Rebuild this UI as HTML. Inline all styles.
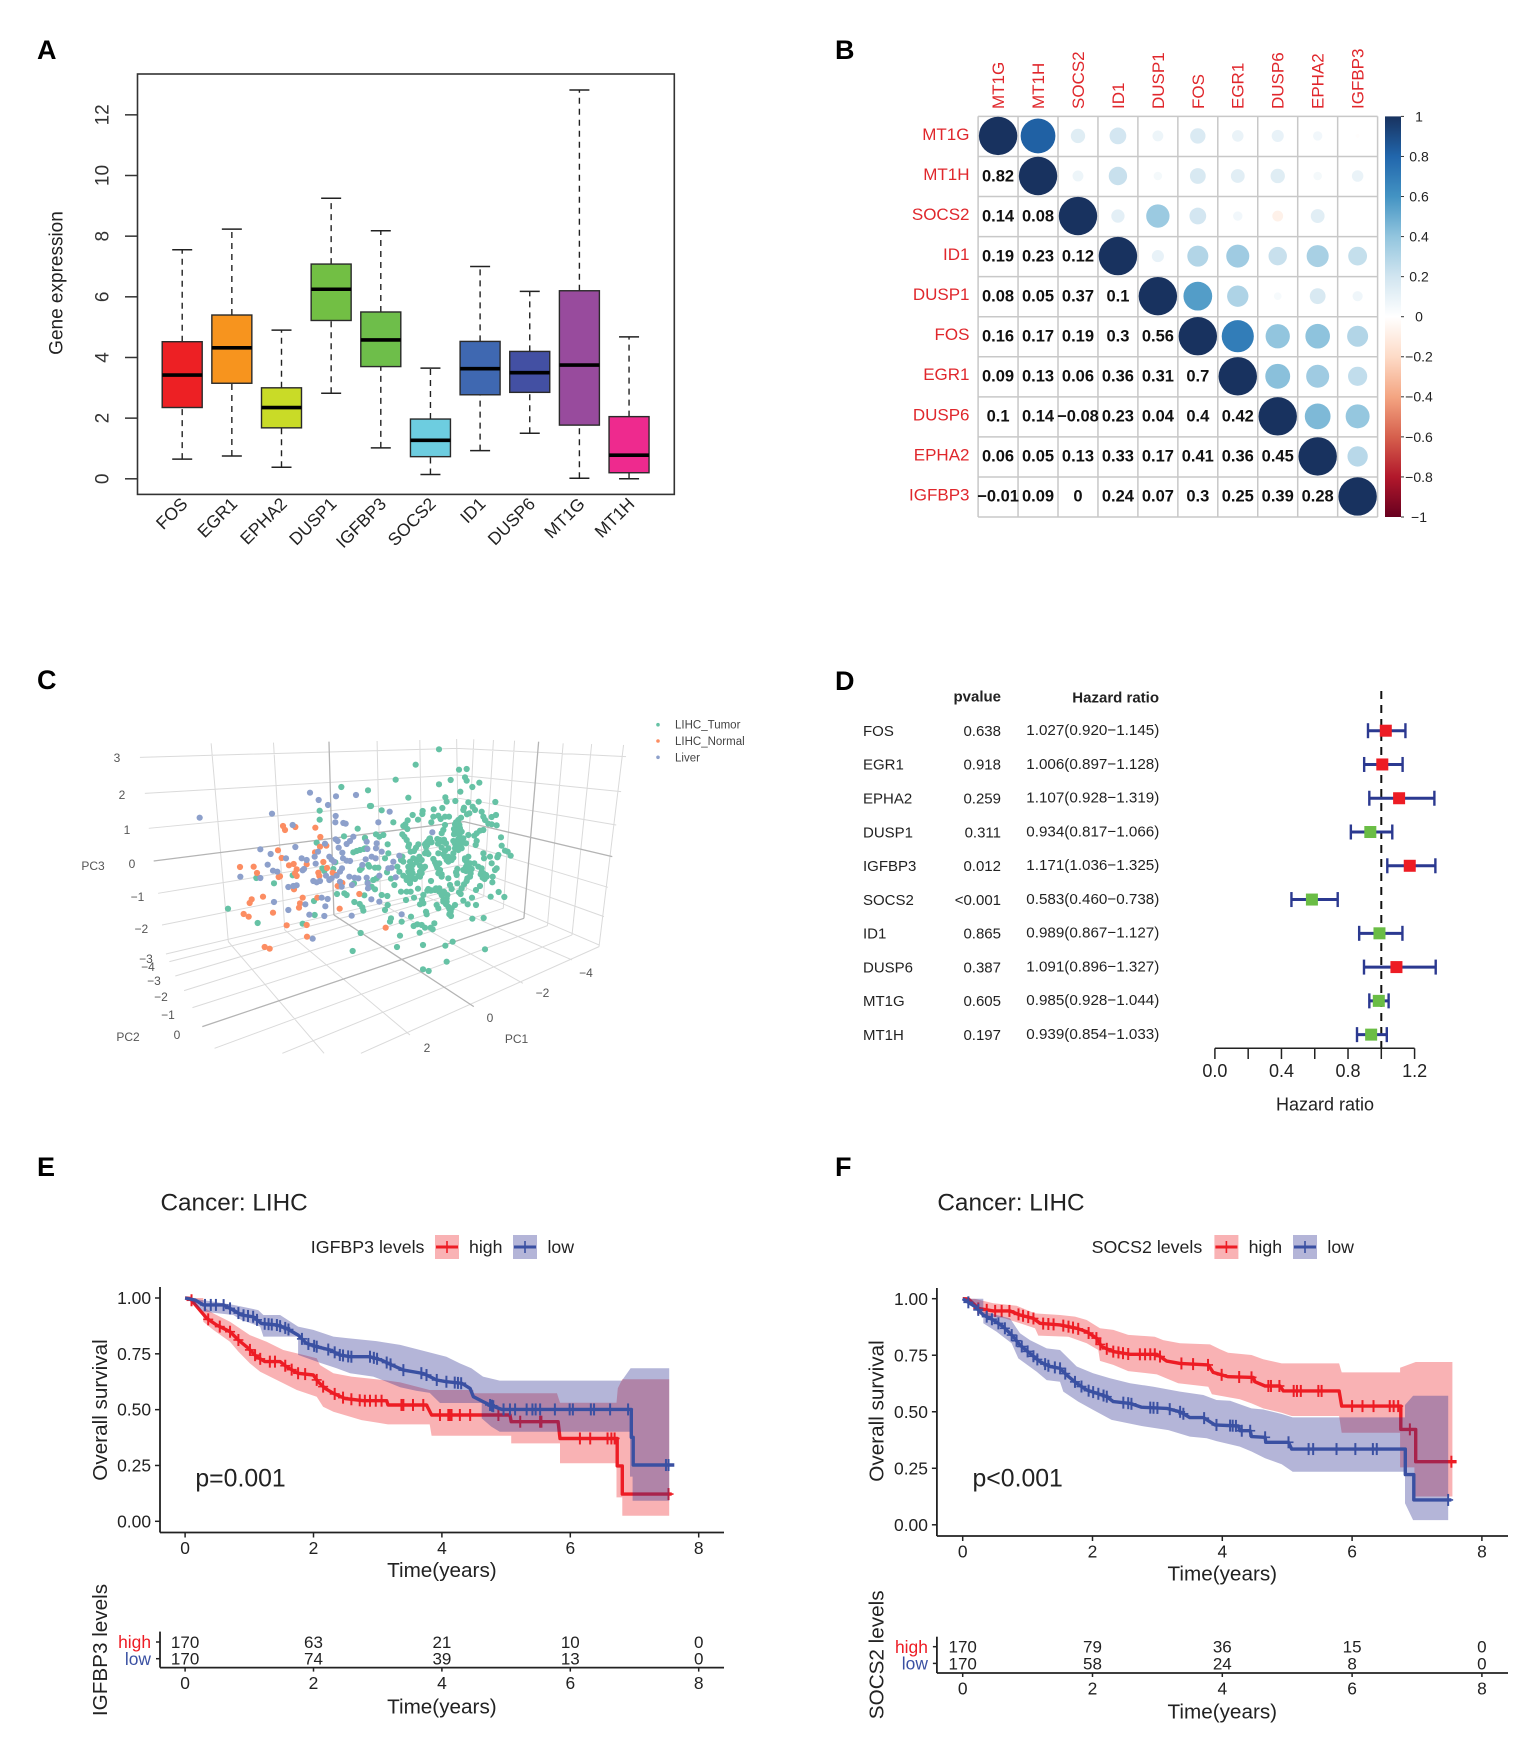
<!DOCTYPE html>
<html lang="en">
<head>
<meta charset="utf-8">
<title>LIHC gene expression figure</title>
<style>
html,body{margin:0;padding:0;background:#fff}
svg{display:block}
text{font-family:"Liberation Sans",sans-serif;fill:#111}
</style>
</head>
<body>
<svg id="fig" xmlns="http://www.w3.org/2000/svg" width="1535" height="1747" viewBox="0 0 1535 1747">
<defs>
<linearGradient id="corrGrad" x1="0" y1="1" x2="0" y2="0"></linearGradient>
</defs>
<rect width="1535" height="1747" fill="#fff"/>
<g transform="translate(0 640) scale(.491 .3333)" fill="none">
<path vector-effect="non-scaling-stroke" stroke="#dadada" stroke-width="1" d="M285 352L930 325L1275 350M295 460L930 405L1265 455M303 565L935 475L1255 555M322 760L940 610L1238 742M330 855L937 675L1230 830M338 942L935 735L1220 915M430 310L465 905M557 308L580 870M768 303L775 790M855 300L860 765M930 297L935 740M965 298L950 750M1005 300L985 770M1048 302L1025 805M1147 310L1115 857M1205 312L1165 885M1270 315L1220 920M465 905L660 1240M580 870L835 1185M775 790L1065 1030M860 765L1165 960M345 965L935 745M357 1008L950 750M375 1052L985 770M392 1103L1025 805M437 1225L1115 857M575 1240L1165 885M735 1240L1220 920"/>
<path vector-effect="non-scaling-stroke" stroke="#b4b4b4" stroke-width="1.3" d="M313 663L945 545L1247 650M670 305L680 825M1097 305L1067 835M680 825L965 1100M412 1160L1067 835"/>
</g>
<g id="layer"></g>
</svg>
<script>
// ---------- Panel A data ----------
const boxGenes = ['FOS','EGR1','EPHA2','DUSP1','IGFBP3','SOCS2','ID1','DUSP6','MT1G','MT1H'];
const boxColors = ['#ED2024','#F7941E','#C9DB27','#72BF44','#6EBE4A','#6DCDE0','#3F68B1','#4350A3','#984B9D','#EE2A8E'];
const whiskerLow = [.65,.75,.38,2.82,1.02,.14,.93,1.5,.02,0];
const quartile1 = [2.35,3.15,1.68,5.22,3.7,.73,2.77,2.85,1.77,.2];
const medians = [3.42,4.32,2.35,6.25,4.58,1.27,3.63,3.5,3.75,.78];
const quartile3 = [4.52,5.4,3.0,7.08,5.5,1.97,4.53,4.2,6.2,2.05];
const whiskerHigh = [7.55,8.23,4.9,9.25,8.18,3.65,7.0,6.18,12.82,4.68];
const boxYTicks = [0,2,4,6,8,10,12];

// ---------- Panel B data ----------
const corrGenes = ['MT1G','MT1H','SOCS2','ID1','DUSP1','FOS','EGR1','DUSP6','EPHA2','IGFBP3'];
const corrLower = [
 [1],
 [.82,1],
 [.14,.08,1],
 [.19,.23,.12,1],
 [.08,.05,.37,.1,1],
 [.16,.17,.19,.3,.56,1],
 [.09,.13,.06,.36,.31,.7,1],
 [.1,.14,-.08,.23,.04,.4,.42,1],
 [.06,.05,.13,.33,.17,.41,.36,.45,1],
 [-.01,.09,0,.24,.07,.3,.25,.39,.28,1]
];
const colorbarTicks = [1,.8,.6,.4,.2,0,-.2,-.4,-.6,-.8,-1];
const colorRamp = ['#67001F','#B2182B','#D6604D','#F4A582','#FDDBC7','#FFFFFF','#D1E5F0','#92C5DE','#4393C3','#2166AC','#18325F'];

// ---------- Panel C data (projected view scores) ----------
const tumorScores = [[454,126],[534,136],[389,197],[389,224],[503,251],[462,274],[525,278],[380,293],[540,183],[199,399],[308,391],[252,415],[436,352],[397,370],[403,378],[430,372],[114,491],[203,534],[338,536],[374,510],[372,468],[441,447],[463,445],[470,450],[492,415],[493,471],[509,477],[517,487],[520,497],[523,451],[512,564],[488,618],[490,322],[500,318],[510,315],[525,310],[515,370],[510,375],[535,360],
[747,13],[677,59],[807,74],[830,72],[617,104],[782,105],[825,97],[830,107],[747,118],[868,113],[847,126],[811,140],[655,158],[766,157],[770,170],[796,168],[866,170],[916,171],[835,172],[575,196],[543,183],[822,188],[820,195],[848,185],[855,195],[875,200],[698,198],[697,207],[731,193],[757,189],[668,210],[831,208],[838,205],[880,215],[885,225],[905,216],[918,210],[684,224],[653,226],[610,232],[646,238],[640,243],[724,232],[730,215],[745,212],[765,215],[777,215],[752,222],[895,236],[905,238],[920,241],[813,218],[805,225],[795,238],[800,245],[810,250],[792,252],[765,240],[760,255],[755,265],[750,285],[760,290],[652,252],[880,255],[870,257],[860,265],[853,272],[835,270],[815,260],[808,270],[795,262],[805,282],[820,280],[933,277],[935,302],[860,288],[857,300],[828,295],[810,295],[800,300],[795,310],[805,315],[815,310],[790,325],[775,310],[765,318],[755,308],[745,325],[775,335],[785,345],[770,345],[720,280],[715,290],[708,295],[720,285],[712,300],[637,268],[643,275],[650,285],[657,298],[655,305],[685,298],[678,308],[672,318],[662,320],[710,320],[705,325],[715,327],[945,317],[953,320],[962,332],[730,342],[688,335],[680,345],[695,345],[670,340],[637,335],[633,345],[640,350],[748,355],[740,362],[750,375],[745,385],[755,395],[775,400],[825,340],[835,335],[830,350],[840,355],[828,365],[820,375],[835,375],[842,385],[865,365],[875,370],[880,385],[890,395],[882,397],[880,325],[882,340],[900,335],[905,355],[925,330],[922,337],[915,375],[920,370],[908,395],[907,412],[802,372],[798,382],[800,390],[853,355],[705,365],[655,365],[665,375],[660,388],[650,398],[668,385],[695,385],[685,392],[690,380],[622,365],[628,380],[640,392],[650,405],[660,415],[723,408],[802,415],[830,408],[822,418],[815,430],[807,442],[812,447],[780,420],[785,432],[858,435],[870,423],[926,441],[943,456],[902,455],[846,458],[820,467],[833,478],[858,480],[795,480],[785,490],[775,485],[768,478],[760,465],[770,460],[755,450],[748,430],[735,435],[722,437],[712,437],[700,450],[696,465],[700,475],[690,478],[672,458],[648,465],[650,440],[662,440],[633,440],[684,431],[613,420],[603,401],[591,382],[585,340],[595,325],[593,298],[580,270],[568,275],[558,268],[525,280],[530,310],[522,312],[538,365],[555,368],[565,368],[550,405],[560,400],[533,412],[545,425],[555,433],[592,453],[575,450],[593,480],[585,495],[603,520],[600,530],[635,530],[663,515],[708,500],[710,508],[740,480],[745,490],[778,508],[783,513],[847,521],[881,519],[671,543],[682,538],[695,540],[705,548],[722,548],[728,553],[733,535],[689,563],[630,572],[621,606],[699,600],[766,602],[788,590],[885,613],[770,650],[699,673],[716,678],
[705,298],[712,290],[718,282],[725,292],[708,306],[742,282],[750,290],[762,284],[768,295],[744,296],[792,268],[800,258],[812,262],[815,280],[805,292],[795,296],[812,302],[800,312],[790,288],[818,292],[808,240],[798,232],[765,335],[778,342],[790,338],[775,350],[760,328],[825,345],[832,358],[838,368],[828,378],[840,395],[832,400],[845,372],[872,388],[878,398],[888,390],[884,402],[875,380],[660,350],[668,360],[680,352],[690,362],[700,370],[665,395],[675,402],[660,408],[690,395],[695,375],[655,380],[735,352],[742,368],[748,380],[755,388],[738,358],[762,440],[772,450],[770,470],[778,492],[782,500],[760,470],[715,432],[725,436],[738,430],[748,440]];
const normalScores = [[279,243],[285,255],[316,246],[376,248],[391,276],[390,305],[409,302],[375,322],[264,316],[275,339],[150,366],[191,365],[201,384],[270,394],[266,396],[297,361],[311,357],[350,358],[320,373],[315,385],[320,393],[400,351],[411,369],[385,383],[388,393],[428,383],[438,390],[312,433],[185,463],[179,474],[219,455],[338,458],[330,475],[327,488],[249,503],[161,507],[176,515],[382,458],[449,491],[290,541],[350,540],[351,575],[224,606],[239,611],[443,423],[457,414],[508,447],[587,548]];
const liverScores = [[29,218],[246,206],[360,143],[386,165],[438,154],[498,150],[414,180],[308,240],[437,213],[436,232],[460,234],[467,236],[211,313],[316,306],[242,327],[288,340],[233,359],[335,340],[350,345],[249,377],[262,380],[151,395],[211,399],[342,372],[338,376],[377,356],[374,335],[384,320],[405,296],[437,283],[443,288],[446,308],[457,323],[459,340],[470,347],[480,348],[418,335],[425,344],[432,350],[295,426],[310,423],[320,421],[370,408],[380,412],[390,408],[252,471],[395,458],[413,462],[346,478],[406,484],[295,495],[358,509],[403,513],[368,581],[485,512],[418,405],[425,400],[408,392],[470,297],[480,288],[490,275],[456,370],[450,380],[440,392],[478,395],[494,398],[486,420],[505,400],[455,425],[450,410],[530,398],[533,415],[534,430],[527,343],[517,360],[530,290],[532,312],[599,200],[565,232],[727,262],[560,295],[558,310],[575,320],[545,335],[557,340],[628,332],[610,350],[605,368],[595,370],[617,397],[568,392],[568,470],[544,463],[635,508]];
const pcaLegendLabels = ['LIHC_Tumor','LIHC_Normal','Liver'];
const pcaColors = ['#66C2A5','#FC8D62','#8DA0CB'];

// ---------- Panel D data ----------
const forestGenes = ['FOS','EGR1','EPHA2','DUSP1','IGFBP3','SOCS2','ID1','DUSP6','MT1G','MT1H'];
const forestP = ['0.638','0.918','0.259','0.311','0.012','<0.001','0.865','0.387','0.605','0.197'];
const forestHR = [1.027,1.006,1.107,.934,1.171,.583,.989,1.091,.985,.939];
const forestLow = [.920,.897,.928,.817,1.036,.460,.867,.896,.928,.854];
const forestHigh = [1.145,1.128,1.319,1.066,1.325,.738,1.127,1.327,1.044,1.033];
const forestTicks = [0,.2,.4,.6,.8,1,1.2];

// ---------- Panel E data ----------
const eHighCurve = [[0,1],[.076,.998],[.206,.954],[.336,.909],[.49,.879],[.70,.849],[.83,.812],[.985,.775],[1.114,.737],[1.244,.715],[1.48,.715],[1.58,.692],[1.76,.663],[1.997,.655],[2.07,.625],[2.18,.595],[2.31,.573],[2.49,.55],[2.775,.54],[3.14,.54],[3.16,.521],[3.76,.521],[3.84,.476],[5.06,.476],[5.08,.446],[5.81,.446],[5.84,.371],[6.72,.371],[6.73,.248],[6.81,.122],[7.58,.122]];
const eLowCurve = [[0,1],[.154,.991],[.284,.969],[.595,.969],[.751,.946],[.88,.924],[1.06,.916],[1.19,.886],[1.43,.879],[1.58,.864],[1.76,.834],[1.89,.797],[2.05,.782],[2.26,.767],[2.41,.745],[2.57,.737],[2.88,.737],[3.06,.722],[3.22,.70],[3.4,.677],[3.71,.662],[3.92,.633],[4.07,.625],[4.31,.618],[4.44,.595],[4.49,.558],[4.64,.536],[4.75,.521],[4.93,.501],[6.94,.501],[6.95,.376],[6.98,.252],[7.62,.252]];
const eHighUpper = [[.05,1],[.232,.969],[.44,.931],[.70,.894],[1.01,.834],[1.27,.804],[1.53,.767],[1.84,.745],[2.05,.73],[2.1,.70],[2.31,.663],[2.59,.648],[3.09,.633],[3.35,.622],[3.81,.588],[4.49,.573],[5.79,.576],[5.84,.531],[6.72,.531],[6.74,.596],[6.81,.636],[7.54,.636]];
const eHighLower = [[.05,1],[.284,.894],[.44,.857],[.70,.804],[.83,.76],[1.01,.707],[1.17,.67],[1.53,.618],[1.74,.588],[2.05,.558],[2.15,.513],[2.31,.491],[2.75,.453],[3.16,.434],[3.81,.434],[3.84,.383],[5.08,.349],[5.81,.349],[5.84,.26],[6.72,.107],[6.81,.025],[7.54,.025]];
const eLowUpper = [[.05,1],[.44,.984],[.75,.969],[1.14,.946],[1.22,.924],[1.48,.924],[1.76,.872],[1.997,.857],[2.31,.827],[2.54,.82],[2.98,.807],[3.35,.79],[3.76,.76],[4.07,.737],[4.28,.707],[4.46,.685],[4.64,.648],[4.9,.63],[6.81,.633],[6.94,.685],[7.54,.685]];
const eLowLower = [[.05,1],[.154,.969],[.284,.939],[.75,.924],[.88,.901],[1.17,.872],[1.22,.827],[1.58,.827],[1.76,.745],[2.10,.71],[2.36,.685],[2.57,.663],[2.93,.648],[3.14,.625],[3.35,.60],[3.6,.585],[3.81,.575],[3.97,.53],[4.62,.461],[4.77,.424],[4.9,.401],[6.93,.2],[6.97,.092],[7.54,.092]];
const eHighCensor = [.10,.36,.54,.70,.83,1.01,1.09,1.17,1.32,1.4,1.56,1.66,1.76,1.87,2.05,2.15,2.33,2.46,2.59,2.72,2.8,2.88,2.97,3.06,3.37,3.4,3.55,3.71,3.97,4.1,4.12,4.15,4.28,4.44,4.88,5.22,5.53,5.55,6.15,6.31,6.58,6.64,6.69,7.53];
const eLowCensor = [.31,.4,.48,.6,.7,.83,.91,.98,1.06,1.12,1.24,1.3,1.35,1.43,1.48,1.56,1.61,1.82,1.92,2.01,2.05,2.23,2.33,2.41,2.46,2.54,2.59,2.88,2.94,2.99,3.14,3.2,3.4,3.68,3.76,3.92,4.07,4.2,4.25,4.3,4.75,4.78,4.8,4.96,5.06,5.14,5.32,5.41,5.46,5.53,5.76,5.99,6.04,6.32,6.37,6.62,6.9,7.49,7.53];
const eRiskHigh = [170,63,21,10,0];
const eRiskLow = [170,74,39,13,0];

// ---------- Panel F data ----------
const fHighCurve = [[0,1],[.087,.999],[.24,.957],[.472,.946],[.729,.946],[.883,.928],[1.088,.913],[1.19,.891],[1.5,.884],[1.756,.869],[1.91,.854],[2.064,.825],[2.14,.788],[2.32,.766],[2.58,.754],[2.99,.754],[3.143,.724],[3.348,.714],[3.785,.707],[3.86,.674],[4.09,.655],[4.48,.652],[4.5,.633],[4.66,.614],[4.89,.614],[4.94,.592],[5.8,.592],[5.84,.525],[6.74,.525],[6.75,.422],[6.97,.422],[6.98,.279],[7.61,.279]];
const fLowCurve = [[0,1],[.19,.965],[.318,.928],[.472,.906],[.626,.876],[.78,.832],[.883,.795],[1.037,.758],[1.19,.722],[1.345,.7],[1.5,.692],[1.6,.663],[1.756,.626],[1.91,.596],[2.064,.582],[2.218,.567],[2.32,.545],[2.58,.537],[2.757,.52],[3.143,.515],[3.348,.5],[3.5,.474],[3.708,.474],[3.887,.442],[4.25,.437],[4.27,.416],[4.43,.416],[4.45,.39],[4.66,.387],[4.67,.365],[5.02,.365],[5.07,.335],[6.815,.335],[6.82,.222],[6.94,.222],[6.95,.11],[7.53,.11]];
const fHighUpper = [[.05,1],[.19,.999],[.472,.98],[.83,.969],[1.114,.935],[1.5,.928],[1.73,.921],[1.91,.906],[2.115,.869],[2.32,.862],[2.55,.84],[2.96,.832],[3.09,.817],[3.348,.803],[3.81,.798],[3.965,.776],[4.09,.761],[4.45,.751],[4.63,.732],[4.915,.714],[5.8,.714],[5.84,.674],[6.74,.695],[6.98,.72],[7.545,.72]];
const fHighLower = [[.05,1],[.29,.928],[.65,.913],[.883,.891],[1.114,.869],[1.165,.837],[1.63,.832],[1.91,.803],[2.09,.773],[2.115,.725],[2.32,.707],[2.55,.68],[2.99,.665],[3.32,.626],[3.785,.611],[3.84,.577],[4.27,.555],[4.45,.537],[4.63,.515],[4.915,.496],[5.07,.481],[5.8,.481],[5.84,.407],[6.74,.254],[6.96,.125],[7.545,.125]];
const fLowUpper = [[.035,1],[.318,.943],[.729,.913],[.883,.847],[1.037,.817],[1.294,.78],[1.5,.773],[1.756,.7],[2.01,.67],[2.27,.648],[2.58,.626],[2.94,.611],[3.348,.589],[3.708,.574],[3.91,.552],[4.12,.549],[4.27,.533],[4.45,.515],[4.63,.51],[4.915,.49],[5.085,.475],[6.815,.53],[6.94,.571],[7.48,.571]];
const fLowLower = [[.035,1],[.318,.891],[.523,.854],[.754,.803],[.857,.736],[1.14,.677],[1.294,.64],[1.5,.633],[1.55,.589],[1.78,.545],[2.01,.508],[2.295,.464],[2.757,.437],[3.17,.419],[3.5,.39],[3.76,.383],[3.91,.37],[4.27,.346],[4.45,.324],[4.66,.294],[4.915,.268],[5.085,.235],[6.76,.235],[6.815,.095],[6.94,.021],[7.48,.021]];
const fHighCensor = [.24,.37,.5,.6,.72,.86,.93,1.01,1.09,1.24,1.32,1.4,1.55,1.63,1.7,1.78,1.94,2.06,2.12,2.22,2.32,2.4,2.47,2.55,2.73,2.81,2.89,2.96,3.04,3.37,3.55,3.78,3.99,4.26,4.45,4.71,4.75,4.88,5.1,5.15,5.21,5.48,5.53,6.0,6.16,6.33,6.58,6.64,6.71,6.89,7.53];
const fLowCensor = [.087,.24,.37,.45,.55,.65,.755,.83,.91,1.0,1.09,1.15,1.27,1.32,1.42,1.5,1.58,1.73,1.83,1.94,2.01,2.09,2.17,2.22,2.475,2.55,2.6,2.89,2.94,3.0,3.19,3.35,3.4,3.72,3.91,4.12,4.16,4.21,4.3,4.43,4.66,5.02,5.33,5.4,5.76,6.05,6.32,6.38,7.48];
const fRiskHigh = [170,79,36,15,0];
const fRiskLow = [170,58,24,8,0];
const timeTicks = [0,2,4,6,8];
const survTicks = [0,.25,.5,.75,1];

// ---------- helpers ----------
const NS = 'http://www.w3.org/2000/svg';
const layer = document.getElementById('layer');
function svgEl(tag, attrs, parent) {
  const e = document.createElementNS(NS, tag);
  for (const k in attrs) e.setAttribute(k, attrs[k]);
  (parent || layer).appendChild(e);
  return e;
}
function label(name, str, x, y, size, o) {
  o = o || {};
  const t = svgEl('text', {x: x, y: y, dy: '.35em', 'font-size': size, 'text-anchor': o.anchor || 'start'}, o.parent);
  
  
  if (o.bold) t.setAttribute('font-weight', 'bold');
  if (o.fill) t.style.fill = o.fill;
  if (o.rot !== undefined) t.setAttribute('transform', 'rotate(' + o.rot + ' ' + x + ' ' + y + ')');
  t.textContent = str;
  return t;
}
function seg(name, x1, y1, x2, y2, stroke, w, dash) {
  const l = svgEl('line', {x1: x1, y1: y1, x2: x2, y2: y2, stroke: stroke, 'stroke-width': w});
  
  
  if (dash) l.setAttribute('stroke-dasharray', dash);
  return l;
}
const panelLetters = [['A',37,49.5],['B',835,49.5],['C',37,679.5],['D',835,680.5],['E',37,1166.5],['F',835,1166.5]];
panelLetters.forEach(p => label('panel-label-' + p[0].toLowerCase(), p[0], p[1], p[2], 27, {bold: true, fill: '#000'}));

// ---------- Panel A: boxplot ----------
(function () {
  const yScale = v => 478.8 - v * 30.33;
  const xScale = i => 182.2 + i * 49.65;
  const frame = svgEl('rect', {x: 137.5, y: 74, width: 536.8, height: 420.4, fill: 'none', stroke: '#333', 'stroke-width': 1.6});
  
  
  boxYTicks.forEach(v => {
    seg('boxplot-y-tick', 125, yScale(v), 137.5, yScale(v), '#333', 1.5);
    label('boxplot-y-tick-label', String(v), 102, yScale(v), 19, {anchor: 'middle', rot: -90, fill: '#333'});
  });
  label('boxplot-y-axis-title', 'Gene expression', 56, 283, 19, {anchor: 'middle', rot: -90, fill: '#222'});
  boxGenes.forEach((g, i) => {
    const cx = xScale(i);
    seg('whisker-' + g, cx, yScale(whiskerLow[i]), cx, yScale(quartile1[i]), '#222', 1.4, '6 5');
    seg('whisker-' + g, cx, yScale(quartile3[i]), cx, yScale(whiskerHigh[i]), '#222', 1.4, '6 5');
    seg('whisker-cap-' + g, cx - 10, yScale(whiskerLow[i]), cx + 10, yScale(whiskerLow[i]), '#222', 1.5);
    seg('whisker-cap-' + g, cx - 10, yScale(whiskerHigh[i]), cx + 10, yScale(whiskerHigh[i]), '#222', 1.5);
    const b = svgEl('rect', {x: cx - 20, y: yScale(quartile3[i]), width: 40, height: yScale(quartile1[i]) - yScale(quartile3[i]), fill: boxColors[i], stroke: '#2a2a2a', 'stroke-width': 1.4});
    
    
    seg('median-' + g, cx - 20, yScale(medians[i]), cx + 20, yScale(medians[i]), '#000', 3.6);
    label('boxplot-x-label', g, cx + 6.5, 505, 17.5, {anchor: 'end', rot: -45, fill: '#222'}).setAttribute('dy', '.0em');
  });
})();

// ---------- Panel B: correlation matrix ----------
(function () {
  const x0 = 978.1, y0 = 116.4, cw = 39.95, ch = 40.06;
  function corrColor(v) {
    const p = (v + 1) / 2 * (colorRamp.length - 1);
    const i = Math.min(Math.floor(p), colorRamp.length - 2), f = p - i;
    const a = colorRamp[i], b = colorRamp[i + 1];
    const ch3 = s => [1, 3, 5].map(k => parseInt(s.substr(k, 2), 16));
    const A = ch3(a), B = ch3(b);
    return 'rgb(' + A.map((c, k) => Math.round(c + (B[k] - c) * f)).join(',') + ')';
  }
  const n = corrGenes.length;
  for (let i = 0; i <= n; i++) {
    seg('corr-grid-line', x0 + i * cw, y0, x0 + i * cw, y0 + n * ch, '#c8c8c8', 1.5);
    seg('corr-grid-line', x0, y0 + i * ch, x0 + n * cw, y0 + i * ch, '#c8c8c8', 1.5);
  }
  corrGenes.forEach((g, i) => {
    label('corr-row-label', g, 969.5, y0 + (i + .5) * ch - 2.5, 17, {anchor: 'end', fill: '#E0272C'});
    label('corr-col-label', g, x0 + (i + .5) * cw, 109, 17, {rot: -90, fill: '#E0272C'});
  });
  corrLower.forEach((row, r) => {
    row.forEach((v, c) => {
      const cx = x0 + (c + .5) * cw, cy = y0 + (r + .5) * ch;
      if (r === c) {
        const d = svgEl('circle', {cx: cx, cy: cy - .5, r: 19.2, fill: corrColor(v)});
        
        
      } else {
        label('corr-value', String(v).replace('-', '\u2212').replace(/^\./, '0.').replace(/^\u2212\./, '\u22120.'), cx, cy - 1, 16.5, {anchor: 'middle', bold: true, fill: '#111'});
        const mx = x0 + (r + .5) * cw, my = y0 + (c + .5) * ch;
        const d = svgEl('circle', {cx: mx, cy: my - .5, r: 19.2 * Math.sqrt(Math.abs(v)), fill: corrColor(v)});
        
        
      }
    });
  });
  const grad = document.getElementById('corrGrad');
  colorRamp.forEach((c, i) => svgEl('stop', {offset: (i / (colorRamp.length - 1)), 'stop-color': c}, grad));
  const bar = svgEl('rect', {x: 1385, y: y0, width: 16, height: n * ch, fill: 'url(#corrGrad)'});
  
  
  colorbarTicks.forEach(v => {
    const y = y0 + (1 - v) / 2 * n * ch;
    seg('corr-colorbar-tick', 1401, y, 1404, y, '#333', 1);
    label('corr-colorbar-label', String(v).replace('-', '\u2212').replace(/^\./, '0.').replace(/^\u2212\./, '\u22120.'), 1419, y, 14, {anchor: 'middle', fill: '#222'});
  });
})();

// ---------- Panel C: PCA scatter ----------
(function () {
  const scaleU = u => 190 + u / 3;
  const scaleV = v => 745 + v / 3;
  [tumorScores, normalScores, liverScores].forEach((pts, k) => {
    pts.forEach(p => {
      const d = svgEl('circle', {cx: scaleU(p[0]), cy: scaleV(p[1]), r: 3.1, fill: pcaColors[k]});
      
      
    });
  });
  const axisLabels = [['3',117,758],['2',122,795],['1',127,830],['0',132,864],['\u22121',137.5,897],['\u22122',141.4,929],['\u22123',146,959],['\u22124',148,967],['\u22123',154,981],['\u22122',161,997],['\u22121',168,1015],['0',177,1035],['PC2',128,1037],['PC3',93,866],['\u22124',586,973],['\u22122',542.5,993],['0',490,1018],['2',427,1048],['PC1',516.5,1039]];
  axisLabels.forEach(a => label('pca-axis-label', a[0], a[1], a[2], 12, {anchor: 'middle', fill: '#555'}));
  pcaLegendLabels.forEach((name, i) => {
    const y = 724.7 + i * 16.3;
    const d = svgEl('circle', {cx: 658, cy: y, r: 1.8, fill: pcaColors[i]});
    
    
    label('pca-legend-label', name, 675, y, 11.5, {fill: '#444'});
  });
})();

// ---------- Panel D: forest plot ----------
(function () {
  const xScale = v => 1214.9 + v * 166.4;
  const rowY = i => 730.7 + i * 33.77;
  label('forest-header-pvalue', 'pvalue', 1001, 696, 15, {anchor: 'end', bold: true, fill: '#222'});
  label('forest-header-hr', 'Hazard ratio', 1159, 697, 15, {anchor: 'end', bold: true, fill: '#222'});
  seg('forest-reference-line', xScale(1), 691, xScale(1), 1048, '#111', 2, '8 6');
  forestGenes.forEach((g, i) => {
    const y = rowY(i);
    label('forest-gene-label', g, 863, y, 15, {fill: '#222'});
    label('forest-pvalue', forestP[i], 1001, y, 15, {anchor: 'end', fill: '#222'});
    label('forest-hr-text', forestHR[i].toFixed(3) + '(' + forestLow[i].toFixed(3) + '\u2212' + forestHigh[i].toFixed(3) + ')', 1159.3, y - 1, 15.2, {anchor: 'end', fill: '#222'});
    seg('forest-ci-' + g, xScale(forestLow[i]), y, xScale(forestHigh[i]), y, '#2B3990', 3);
    seg('forest-ci-cap-' + g, xScale(forestLow[i]), y - 7.5, xScale(forestLow[i]), y + 7.5, '#2B3990', 2.4);
    seg('forest-ci-cap-' + g, xScale(forestHigh[i]), y - 7.5, xScale(forestHigh[i]), y + 7.5, '#2B3990', 2.4);
    const s = svgEl('rect', {x: xScale(forestHR[i]) - 6, y: y - 6, width: 12, height: 12, fill: forestHR[i] > 1 ? '#ED1C24' : '#6ABD45'});
    
    
  });
  seg('forest-x-axis', xScale(0), 1048.3, xScale(1.2), 1048.3, '#222', 1.5);
  forestTicks.forEach((v, i) => {
    seg('forest-x-tick', xScale(v), 1048.3, xScale(v), 1059, '#222', 1.5);
    if (i % 2 === 0) label('forest-x-tick-label', v.toFixed(1), xScale(v), 1070.7, 18, {anchor: 'middle', fill: '#222'});
  });
  label('forest-x-axis-title', 'Hazard ratio', 1325, 1104.3, 18, {anchor: 'middle', fill: '#222'});
})();

// ---------- Panels E / F: Kaplan-Meier ----------
const RED = '#ED1C24', BLUE = '#3A50A2';
function isRamp(a, b, maxDt) { return (b[0] - a[0]) < maxDt && Math.abs(b[1] - a[1]) < .08; }
function stepPts(arr, xs, ys, maxDt) {
  const out = [];
  arr.forEach((p, i) => {
    if (i > 0 && !isRamp(arr[i - 1], p, maxDt)) out.push([xs(p[0]), ys(arr[i - 1][1])]);
    out.push([xs(p[0]), ys(p[1])]);
  });
  return out;
}
function pathD(pts) { return 'M' + pts.map(p => p[0].toFixed(1) + ' ' + p[1].toFixed(1)).join('L'); }
function survAt(curve, t) {
  let s = curve[0][1];
  for (let i = 0; i < curve.length; i++) {
    if (curve[i][0] <= t) {
      s = curve[i][1];
      const nx = curve[i + 1];
      if (nx && nx[0] > t && isRamp(curve[i], nx, .45)) s += (nx[1] - curve[i][1]) * (t - curve[i][0]) / (nx[0] - curve[i][0]);
    }
  }
  return s;
}
function drawKM(c) {
  const xs = t => c.x0 + t * c.xu;
  const ys = s => c.y0 - s * c.yu;
  const id = c.id;
  const series = [
    {key: 'high', curve: c.hi, up: c.hiUp, lo: c.hiLo, cens: c.hiC, color: RED, band: 'rgba(237,28,36,.34)'},
    {key: 'low', curve: c.lo, up: c.loUp, lo: c.loLo, cens: c.loC, color: BLUE, band: 'rgba(46,49,146,.36)'}
  ];
  series.forEach(s => {
    const band = svgEl('path', {d: pathD(stepPts(s.up, xs, ys, .62).concat(stepPts(s.lo, xs, ys, .62).reverse())) + 'Z', fill: s.band});
    
    
    const line = svgEl('path', {d: pathD(stepPts(s.curve, xs, ys, .45)), fill: 'none', stroke: s.color, 'stroke-width': 3.4, 'stroke-linejoin': 'round'});
    
    
    s.cens.forEach(t => {
      const y = ys(survAt(s.curve, t));
      seg(id + '-censor-tick-' + s.key, xs(t), y - 6, xs(t), y + 6, s.color, 2);
      seg(id + '-censor-tick-' + s.key, xs(t) - 5, y, xs(t) + 5, y, s.color, 1.6);
    });
  });
  seg(id + '-y-axis', c.axX, c.top, c.axX, c.axY, '#222', 1.8);
  seg(id + '-x-axis', c.axX, c.axY, c.right, c.axY, '#222', 1.8);
  survTicks.forEach(v => {
    seg(id + '-y-tick', c.axX - 5, ys(v), c.axX, ys(v), '#222', 1.5);
    label(id + '-y-tick-label', v.toFixed(2), c.axX - 9, ys(v), 17.4, {anchor: 'end', fill: '#222'});
  });
  timeTicks.forEach(t => {
    seg(id + '-x-tick', xs(t), c.axY, xs(t), c.axY + 5, '#222', 1.5);
    label(id + '-x-tick-label', String(t), xs(t), c.axY + 15.5, 17.4, {anchor: 'middle', fill: '#222'});
    seg(id + '-risk-x-tick', xs(t), c.riskAx, xs(t), c.riskAx + 4, '#222', 1.5);
    label(id + '-risk-x-tick-label', String(t), xs(t), c.riskAx + 15.5, 17.4, {anchor: 'middle', fill: '#222'});
  });
  label(id + '-x-axis-title', 'Time(years)', xs(4), c.axY + 37.5, 20.7, {anchor: 'middle', fill: '#222'});
  label(id + '-y-axis-title', 'Overall survival', c.titleX, c.ylabY, 20.7, {anchor: 'middle', rot: -90, fill: '#222'});
  label(id + '-chart-title', 'Cancer: LIHC', c.axX + .5, 1202, 24.3, {fill: '#222'});
  label(id + '-legend-title', c.gene + ' levels', c.legX, 1247, 17.8, {fill: '#222'});
  [['high', c.box1, c.txt1, RED, 'rgba(237,28,36,.34)'], ['low', c.box2, c.txt2, BLUE, 'rgba(46,49,146,.36)']].forEach(k => {
    const r = svgEl('rect', {x: k[1], y: 1235, width: 24, height: 24, fill: k[4]});
    
    
    seg(id + '-legend-key-line', k[1] + 1, 1247, k[1] + 23, 1247, k[3], 3);
    seg(id + '-legend-key-line', k[1] + 12, 1241, k[1] + 12, 1253, k[3], 1.6);
    label(id + '-legend-label-' + k[0], k[0], k[2], 1247, 17.7, {fill: '#222'});
  });
  label(id + '-p-value', c.p, c.pX, c.pY, 24.8, {fill: '#222'});
  seg(id + '-risk-y-axis', c.axX, c.riskTop, c.axX, c.riskAx, '#222', 1.8);
  seg(id + '-risk-x-axis', c.axX, c.riskAx, c.right, c.riskAx, '#222', 1.8);
  [['high', c.riskHi, c.riskHY, RED], ['low', c.riskLo, c.riskLY, BLUE]].forEach(r => {
    seg(id + '-risk-y-tick', c.axX - 4, r[2], c.axX, r[2], '#222', 1.5);
    label(id + '-risk-row-label-' + r[0], r[0], c.axX - 9, r[2], 17.4, {anchor: 'end', fill: r[3]});
    r[1].forEach((v, i) => label(id + '-risk-count-' + r[0], String(v), xs(timeTicks[i]), r[2], 17, {anchor: 'middle', fill: '#222'}));
  });
  label(id + '-risk-x-axis-title', 'Time(years)', xs(4), c.riskAx + 38.5, 20.7, {anchor: 'middle', fill: '#222'});
  label(id + '-risk-y-axis-title', c.gene + ' levels', c.titleX, c.riskTitleY, 20.7, {anchor: 'middle', rot: -90, fill: '#222'});
}
drawKM({id: 'km-igfbp3', gene: 'IGFBP3', x0: 185.1, xu: 64.2, y0: 1521.3, yu: 223.3, axX: 160, axY: 1532.5, top: 1287, right: 724,
  hi: eHighCurve, lo: eLowCurve, hiUp: eHighUpper, hiLo: eHighLower, loUp: eLowUpper, loLo: eLowLower, hiC: eHighCensor, loC: eLowCensor,
  riskHi: eRiskHigh, riskLo: eRiskLow, riskAx: 1667.6, riskTop: 1631.6, riskHY: 1642, riskLY: 1658.7, titleX: 99.7, ylabY: 1410, riskTitleY: 1650,
  legX: 310.8, box1: 435, txt1: 469, box2: 513, txt2: 547.5, p: 'p=0.001', pX: 195.4, pY: 1478});
drawKM({id: 'km-socs2', gene: 'SOCS2', x0: 962.7, xu: 64.9, y0: 1524.8, yu: 226.1, axX: 936.9, axY: 1536, top: 1288, right: 1508,
  hi: fHighCurve, lo: fLowCurve, hiUp: fHighUpper, hiLo: fHighLower, loUp: fLowUpper, loLo: fLowLower, hiC: fHighCensor, loC: fLowCensor,
  riskHi: fRiskHigh, riskLo: fRiskLow, riskAx: 1673, riskTop: 1636.7, riskHY: 1646.7, riskLY: 1663.4, titleX: 876.4, ylabY: 1411, riskTitleY: 1654.8,
  legX: 1091.6, box1: 1214.4, txt1: 1248.6, box2: 1293, txt2: 1327.4, p: 'p<0.001', pX: 972.5, pY: 1478});
</script>
</body>
</html>
